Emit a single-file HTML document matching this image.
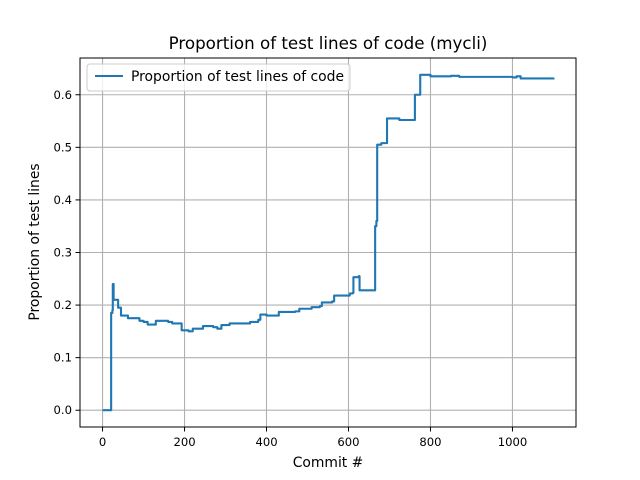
<!DOCTYPE html>
<html><head><meta charset="utf-8"><style>
body{margin:0;background:#fff;}
svg{display:block;font-family:"DejaVu Sans","Liberation Sans",sans-serif;}
</style></head><body>
<svg id="chart" width="640" height="480" viewBox="0 0 640 480" xmlns="http://www.w3.org/2000/svg">
<rect width="640" height="480" fill="#fff"/>
<g id="grid"></g>
<g id="ticks"></g>
<path id="series" fill="none" stroke="#1f77b4" stroke-width="2.1" stroke-linejoin="round"/>
<rect x="80" y="58" width="496" height="369" fill="none" stroke="#000" stroke-width="1"/>
<text x="328" y="49" font-size="16.7" text-anchor="middle">Proportion of test lines of code (mycli)</text>
<text x="328" y="467" font-size="13.9" text-anchor="middle">Commit #</text>
<text transform="translate(39,242) rotate(-90)" font-size="13.9" text-anchor="middle">Proportion of test lines</text>
<g>
<rect x="87" y="64" width="263" height="27" rx="3" fill="#fff" fill-opacity="0.8" stroke="#ccc"/>
<line x1="95" y1="76" x2="123" y2="76" stroke="#1f77b4" stroke-width="2.1"/>
<text x="131" y="81" font-size="13.9">Proportion of test lines of code</text>
</g>
</svg>
<script>
const commits=[0,20,21,24,25,27,35,38,45,60,62,90,100,110,125,130,160,170,190,193,210,220,240,245,270,280,290,310,350,360,380,385,400,420,430,470,480,510,530,535,560,565,600,603,610,612,625,627,663,665,668,670,680,692,694,720,724,760,762,773,775,800,850,870,1000,1010,1020,1100];
const values=[0,0,0.185,0.19,0.24,0.21,0.21,0.195,0.18,0.18,0.175,0.17,0.168,0.163,0.163,0.17,0.168,0.165,0.165,0.152,0.15,0.155,0.155,0.16,0.158,0.155,0.162,0.165,0.165,0.168,0.172,0.182,0.18,0.18,0.187,0.188,0.193,0.196,0.198,0.205,0.207,0.218,0.218,0.222,0.223,0.253,0.255,0.228,0.228,0.35,0.36,0.505,0.508,0.508,0.555,0.555,0.552,0.552,0.6,0.6,0.638,0.635,0.636,0.634,0.633,0.635,0.631,0.629];
const xTicks=[0,200,400,600,800,1000];
const yTicks=[0.0,0.1,0.2,0.3,0.4,0.5,0.6];
const X0=80,X1=576,Y0=427,Y1=58;
const xmin=-55,xmax=1155,ymin=-0.0319,ymax=0.6699;
const sx=v=>X0+(v-xmin)/(xmax-xmin)*(X1-X0);
const sy=v=>Y0-(v-ymin)/(ymax-ymin)*(Y0-Y1);
const NS="http://www.w3.org/2000/svg";
const grid=document.getElementById('grid'),ticks=document.getElementById('ticks');
function mk(tag,attrs,parent){const e=document.createElementNS(NS,tag);for(const k in attrs)e.setAttribute(k,attrs[k]);parent.appendChild(e);return e;}
xTicks.forEach(t=>{const x=sx(t);
const g=mk('line',{x1:x,x2:x,y1:Y1,y2:Y0,stroke:'#b0b0b0','stroke-width':1.1},grid);


mk('line',{x1:x,x2:x,y1:Y0,y2:Y0+4.5,stroke:'#000','stroke-width':1},ticks);
const tx=mk('text',{x:x,y:Y0+19,'font-size':11.6,'text-anchor':'middle'},ticks);tx.textContent=t;

});
yTicks.forEach(t=>{const y=sy(t);
const g=mk('line',{x1:X0,x2:X1,y1:y,y2:y,stroke:'#b0b0b0','stroke-width':1.1},grid);


mk('line',{x1:X0-4.5,x2:X0,y1:y,y2:y,stroke:'#000','stroke-width':1},ticks);
const tx=mk('text',{x:X0-8,y:y+4,'font-size':11.6,'text-anchor':'end'},ticks);tx.textContent=t.toFixed(1);

});
let d='';commits.forEach((c,i)=>{
 if(i===0){d+='M'+sx(c).toFixed(2)+','+sy(values[i]).toFixed(2);}
 else{d+='H'+sx(c).toFixed(2)+'V'+sy(values[i]).toFixed(2);}
});
document.getElementById('series').setAttribute('d',d);
</script>
</body></html>
